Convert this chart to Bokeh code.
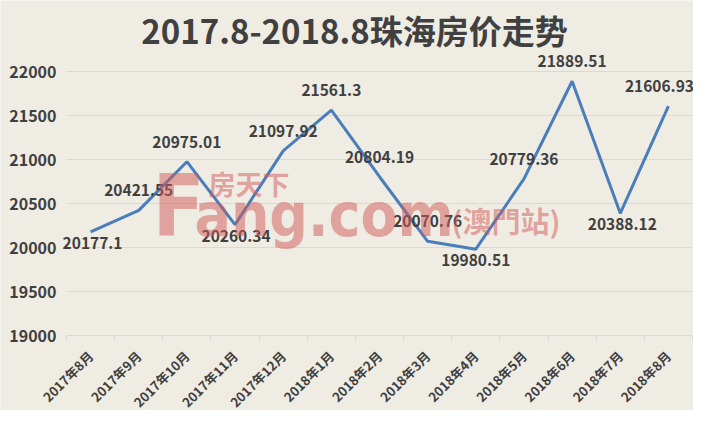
import math
from bokeh.plotting import figure
from bokeh.models import Range1d, FixedTicker, Label, LabelSet, ColumnDataSource
from bokeh.core.properties import value
from bokeh.embed import file_html
from bokeh.resources import INLINE

# ---- data ----
months = ["2017年8月", "2017年9月", "2017年10月", "2017年11月", "2017年12月",
          "2018年1月", "2018年2月", "2018年3月", "2018年4月", "2018年5月",
          "2018年6月", "2018年7月", "2018年8月"]
prices = [20177.1, 20421.55, 20975.01, 20260.34, 21097.92, 21561.3, 20804.19,
          20070.76, 19980.51, 20779.36, 21889.51, 20388.12, 21606.93]
y_ticks = [19000, 19500, 20000, 20500, 21000, 21500, 22000]
title_text = "2017.8-2018.8珠海房价走势"

# ---- style / layout ----
label_side = ["below", "above", "above", "below", "above", "above", "above",
              "above", "below", "above", "above", "below", "above"]
label_nudge = [2, 0, 0, 1, 0, 0, 0, 0, 0, 0, 0, 2, -9]
BG = "#EFECE3"
TXT = "#404040"
GRID = "#D9D9D9"
LINE = "#4A7EBB"
CJK = "Noto Sans CJK SC"

W, H = 693, 410
PL, PR, PT, PB = 66, 692, 71, 335          # plot-area edges in canvas pixels
n = len(months)
cw = (PR - PL) / n
y0, y1 = y_ticks[0], y_ticks[-1]
upp = (y1 - y0) / (PB - PT)                # value units per pixel

x_range = Range1d(-0.5 - PL / cw, n - 0.5 + (W - PR) / cw)
y_range = Range1d(y0 - (H - PB) * upp, y1 + PT * upp)

def fx(px):
    return -0.5 + (px - PL) / cw

def fy(py):
    return y1 - (py - PT) * upp

p = figure(width=W, height=H, output_backend="svg", toolbar_location=None,
           x_range=x_range, y_range=y_range,
           min_border=0, min_border_left=0, min_border_right=0,
           min_border_top=0, min_border_bottom=0)
p.background_fill_color = BG
p.border_fill_color = BG
p.outline_line_color = None
p.grid.visible = False

xs = list(range(n))

# x axis (category axis) fixed at the bottom of the value range
xa = p.xaxis[0]
xa.fixed_location = y0
xa.bounds = (-0.5, n - 0.5)
xa.ticker = FixedTicker(ticks=xs, minor_ticks=[i - 0.5 for i in range(n + 1)])
xa.major_label_overrides = {i: m for i, m in enumerate(months)}
xa.major_label_orientation = math.pi / 4
xa.major_label_text_font = CJK
xa.major_label_text_font_size = "13px"
xa.major_label_text_font_style = "bold"
xa.major_label_text_color = TXT
xa.major_label_standoff = 13
xa.axis_line_color = GRID
xa.major_tick_line_color = None
xa.major_tick_out = 0
xa.major_tick_in = 0
xa.minor_tick_line_color = GRID
xa.minor_tick_in = 0
xa.minor_tick_out = 5

# y axis fixed at the left edge of the plot area
ya = p.yaxis[0]
ya.fixed_location = -0.5
ya.bounds = (y0, y1)
ya.ticker = FixedTicker(ticks=y_ticks)
ya.axis_line_color = None
ya.major_tick_line_color = None
ya.minor_tick_line_color = None
ya.major_tick_out = 0
ya.major_tick_in = 0
ya.major_label_standoff = 10
ya.major_label_text_font = CJK
ya.major_label_text_font_size = "16px"
ya.major_label_text_font_style = "bold"
ya.major_label_text_color = TXT

# horizontal grid lines
p.segment(x0=[-0.5] * (len(y_ticks) - 1), x1=[n - 0.5] * (len(y_ticks) - 1),
          y0=y_ticks[1:], y1=y_ticks[1:], line_color=GRID, line_width=1)

p.line(x=xs, y=prices, line_color=LINE, line_width=3)

# data labels
src = ColumnDataSource(dict(
    x=xs, y=prices, t=[str(v) for v in prices],
    dy=[20 if s == "above" else -11 for s in label_side], dx=label_nudge))
p.add_layout(LabelSet(x="x", y="y", text="t", x_offset="dx", y_offset="dy", source=src,
                      text_align="center", text_baseline="middle",
                      text_font=value(CJK), text_font_size="15.5px",
                      text_font_style="bold", text_color=TXT))

# title
p.add_layout(Label(x=fx(354), y=fy(29), text=title_text, text_font=CJK,
                   text_font_size="33px", text_font_style="bold", text_color=TXT,
                   text_align="center", text_baseline="middle"))

# watermark (page decoration)
WM = "#D25858"
WMF = "DejaVu Sans Condensed"
p.add_layout(Label(x=fx(152), y=fy(234 - 29), text="F", text_font=WMF,
                   text_font_size="85px", text_font_style="bold", text_color=WM,
                   text_alpha=0.5, text_baseline="alphabetic", text_align="left"))
p.add_layout(Label(x=fx(194), y=fy(234 - 20), text="ang.com", text_font=WMF,
                   text_font_size="60px", text_font_style="bold", text_color=WM,
                   text_alpha=0.5, text_baseline="alphabetic", text_align="left"))
p.add_layout(Label(x=fx(208), y=fy(183), text="房天下", text_font=CJK,
                   text_font_size="27px", text_font_style="bold", text_color=WM,
                   text_alpha=0.5, text_baseline="middle", text_align="left"))
p.add_layout(Label(x=fx(451), y=fy(219), text="(澳門站)", text_font="Noto Sans CJK TC",
                   text_font_size="29px", text_font_style="bold", text_color=WM,
                   text_alpha=0.5, text_baseline="middle", text_align="left"))

open("out.html", "w").write(file_html(p, INLINE))
